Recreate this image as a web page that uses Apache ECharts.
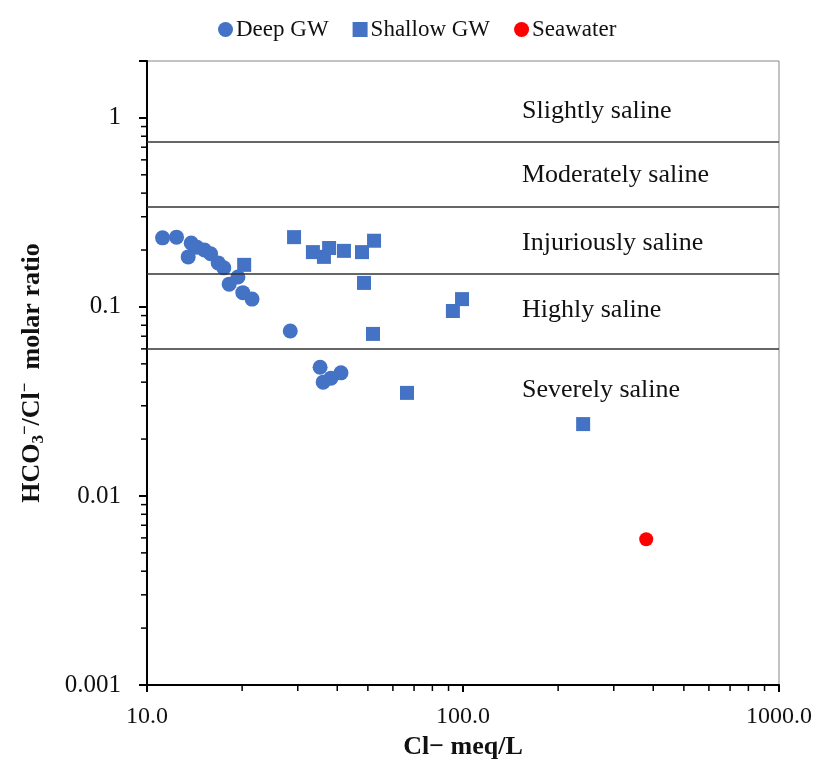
<!DOCTYPE html>
<html>
<head>
<meta charset="utf-8">
<script src="https://cdn.jsdelivr.net/npm/echarts@6/dist/echarts.min.js"></script>
<style>
html,body{margin:0;padding:0;background:#fff;}
#chart{width:817px;height:765px;}
</style>
</head>
<body>
<div id="chart"></div>
<script>
// Cl- (meq/L), HCO3-/Cl- molar ratio
var deepGW = [
	[11.2, 0.232], [12.4, 0.234], [13.8, 0.218], [14.4, 0.207], [15.2, 0.200],
	[15.9, 0.191], [13.5, 0.184], [16.8, 0.171], [17.5, 0.161], [19.4, 0.144],
	[18.2, 0.132], [20.1, 0.119], [21.5, 0.110], [28.4, 0.0746], [35.3, 0.048],
	[41.1, 0.0448], [36.1, 0.040], [38.2, 0.042]
];
var shallowGW = [
	[20.3, 0.167], [29.2, 0.234], [33.5, 0.195], [36.3, 0.184], [37.7, 0.205],
	[42.0, 0.198], [47.9, 0.195], [52.3, 0.224], [48.6, 0.134], [51.9, 0.072],
	[92.9, 0.0952], [99.3, 0.110], [66.5, 0.0351], [240, 0.024]
];
var seawater = [[380, 0.0059]];

// class boundaries and names
var boundaries = [0.75, 0.34, 0.152, 0.062];
var classNames = ['Slightly saline', 'Moderately saline', 'Injuriously saline', 'Highly saline', 'Severely saline'];
var classLabelY = [111, 175, 243, 310, 390];

// minor tick positions of the log axes
var xMinorTicks = [20, 30, 40, 50, 60, 70, 80, 90, 200, 300, 400, 500, 600, 700, 800, 900];
var yMinorTicks = [0.002, 0.003, 0.004, 0.005, 0.006, 0.007, 0.008, 0.009,
	0.02, 0.03, 0.04, 0.05, 0.06, 0.07, 0.08, 0.09,
	0.2, 0.3, 0.4, 0.5, 0.6, 0.7, 0.8, 0.9, 2];

var FONT = 'Liberation Serif';
var BLUE = '#4472C4';

function isPow10(v){
	var l = Math.log10(v);
	return Math.abs(l - Math.round(l)) < 1e-6;
}

var graphics = [];
for (var i = 0; i < classNames.length; i++) {
	graphics.push({
		type: 'text',
		left: 522,
		top: classLabelY[i] - 13,
		style: {text: classNames[i], font: '26px "Liberation Serif"', fill: '#111'}
	});
}

var option = {
	animation: false,
	backgroundColor: '#fff',
	legend: {
		top: 13,
		left: 213,
		itemWidth: 15,
		itemHeight: 15,
		itemGap: 24,
		textStyle: {fontFamily: FONT, fontSize: 23, color: '#111', padding: [0, 0, 0, -2]},
		data: [
			{name: 'Deep GW', icon: 'circle'},
			{name: 'Shallow GW', icon: 'rect'},
			{name: 'Seawater', icon: 'circle'}
		]
	},
	grid: {
		left: 147, right: 38, top: 61, bottom: 80,
		show: true, borderColor: '#888', borderWidth: 1
	},
	xAxis: {
		type: 'log',
		min: 10,
		max: 1000,
		name: 'Cl\u2212 meq/L',
		nameLocation: 'middle',
		nameGap: 49,
		nameTextStyle: {fontFamily: FONT, fontSize: 26, fontWeight: 'bold', color: '#111'},
		axisLine: {lineStyle: {color: '#000', width: 2}},
		axisTick: {inside: false, length: 7, lineStyle: {color: '#000', width: 2}},
		splitLine: {show: false},
		axisLabel: {
			margin: 20,
			fontFamily: FONT, fontSize: 24, color: '#111',
			formatter: function(v){ return isPow10(v) ? Number(v).toFixed(1) : ''; }
		}
	},
	yAxis: {
		type: 'log',
		min: 0.001,
		max: 2,
		name: '{t|HCO}{sub|3}{sup|\u2212}{t|/Cl}{sup|\u2212}{t|  molar ratio}',
		nameLocation: 'middle',
		nameGap: 100,
		nameTextStyle: {
			rich: {
				t: {fontFamily: FONT, fontSize: 26, fontWeight: 'bold', color: '#111', lineHeight: 30},
				sub: {fontFamily: FONT, fontSize: 17, fontWeight: 'bold', color: '#111', verticalAlign: 'bottom', lineHeight: 30},
				sup: {fontFamily: FONT, fontSize: 17, fontWeight: 'bold', color: '#111', verticalAlign: 'top', lineHeight: 30}
			}
		},
		axisLine: {lineStyle: {color: '#000', width: 2}},
		axisTick: {inside: false, length: 8, lineStyle: {color: '#000', width: 2}},
		splitLine: {show: false},
		axisLabel: {
			margin: 26,
			fontFamily: FONT, fontSize: 25, color: '#111',
			formatter: function(v){ return isPow10(v) ? String(parseFloat(Number(v).toPrecision(6))) : ''; }
		}
	},
	graphic: graphics,
	series: [
		{
			name: 'Deep GW',
			type: 'scatter',
			symbol: 'circle',
			symbolSize: 15,
			itemStyle: {color: BLUE, opacity: 1},
			data: deepGW,
			z: 3
		},
		{
			name: 'Shallow GW',
			type: 'scatter',
			symbol: 'rect',
			symbolSize: 14,
			itemStyle: {color: BLUE, opacity: 1},
			data: shallowGW,
			z: 3
		},
		{
			name: 'Seawater',
			type: 'scatter',
			symbol: 'circle',
			symbolSize: 14,
			itemStyle: {color: '#FF0000', opacity: 1},
			data: seawater,
			z: 3,
			markLine: {
				silent: true,
				symbol: 'none',
				label: {show: false},
				lineStyle: {color: '#333', width: 1.5, type: 'solid'},
				data: boundaries.map(function(b){ return {yAxis: b}; })
			}
		},
		{
			// minor ticks on the x axis
			type: 'custom',
			silent: true,
			clip: false,
			data: xMinorTicks.map(function(v){ return [v, 0.001]; }),
			renderItem: function(params, api){
				var p = api.coord([api.value(0), api.value(1)]);
				return {type: 'line', shape: {x1: p[0], y1: p[1], x2: p[0], y2: p[1] + 6},
					style: {stroke: '#000', lineWidth: 1.5}};
			}
		},
		{
			// minor ticks on the y axis
			type: 'custom',
			silent: true,
			clip: false,
			data: yMinorTicks.map(function(v){ return [10, v]; }),
			renderItem: function(params, api){
				var p = api.coord([api.value(0), api.value(1)]);
				return {type: 'line', shape: {x1: p[0] - 6, y1: p[1], x2: p[0], y2: p[1]},
					style: {stroke: '#000', lineWidth: 1.5}};
			}
		}
	]
};

var myChart = echarts.init(document.getElementById('chart'));
myChart.setOption(option);
</script>
</body>
</html>
